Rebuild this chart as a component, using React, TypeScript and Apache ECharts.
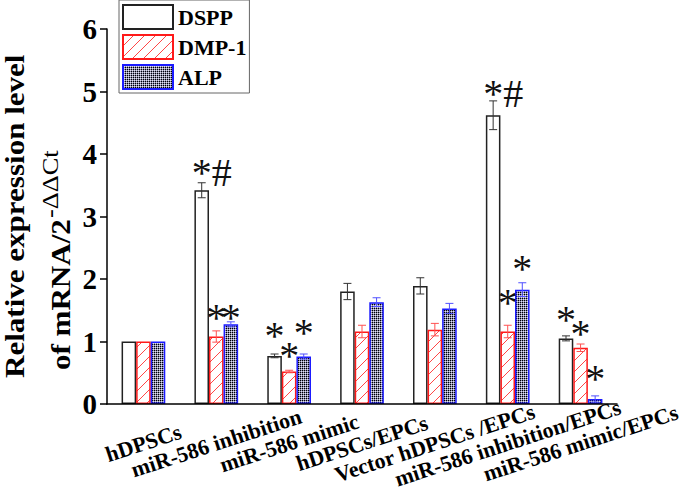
import React, { useEffect, useRef } from 'react';
import * as echarts from 'echarts';

const categories = [
  'hDPSCs',
  'miR-586 inhibition',
  'miR-586 mimic',
  'hDPSCs/EPCs',
  'Vector hDPSCs /EPCs',
  'miR-586 inhibition/EPCs',
  'miR-586 mimic/EPCs',
];
const seriesNames = ['DSPP', 'DMP-1', 'ALP'];
const dsppValues = [1.0, 3.42, 0.77, 1.8, 1.89, 4.62, 1.05];
const dsppErrors = [0, 0.12, 0.03, 0.13, 0.13, 0.23, 0.04];
const dmp1Values = [1.0, 1.08, 0.52, 1.16, 1.19, 1.16, 0.9];
const dmp1Errors = [0, 0.09, 0.02, 0.1, 0.1, 0.1, 0.06];
const alpValues = [1.0, 1.275, 0.76, 1.63, 1.53, 1.83, 0.08];
const alpErrors = [0, 0.04, 0.04, 0.07, 0.08, 0.11, 0.05];
const dsppMarks = ['', '*#', '*', '', '', '*#', '*'];
const dmp1Marks = ['', '*', '*', '', '', '*', '*'];
const alpMarks = ['', '*', '*', '', '', '*', '*'];
const yTicks = [0, 1, 2, 3, 4, 5, 6];
const yTitleLine1 = 'Relative expression level';
const yTitleLine2 = 'of mRNA/2';
const yTitleSup = '-ΔΔCt';

// layout tweaks (pixels) for annotation marks, kept apart from the data
const markLift = [
  [0, 23, 26, 0, 0, 27, 24],
  [0, 25, 22, 0, 0, 35, 20],
  [0, 12, 30, 0, 0, 27, 26],
];

const FONT = '"Liberation Serif", "Times New Roman", serif';
const MARK_SIZE = 40;
const TITLE_SCALE = 1.15;

function makeHatch(): HTMLCanvasElement {
  const c = document.createElement('canvas');
  const s = 11;
  c.width = s;
  c.height = s;
  const ctx = c.getContext('2d')!;
  ctx.fillStyle = '#ffffff';
  ctx.fillRect(0, 0, s, s);
  ctx.strokeStyle = 'rgba(255,50,50,0.9)';
  ctx.lineWidth = 1;
  ctx.beginPath();
  ctx.moveTo(-1, s + 1);
  ctx.lineTo(s + 1, -1);
  ctx.moveTo(-2, 2);
  ctx.lineTo(2, -2);
  ctx.moveTo(s - 2, s + 2);
  ctx.lineTo(s + 2, s - 2);
  ctx.stroke();
  return c;
}

function makeDots(): HTMLCanvasElement {
  const c = document.createElement('canvas');
  c.width = 2;
  c.height = 2;
  const ctx = c.getContext('2d')!;
  ctx.fillStyle = '#e4e4f0';
  ctx.fillRect(0, 0, 2, 2);
  ctx.fillStyle = '#8a8aa8';
  ctx.fillRect(1, 0, 1, 1);
  ctx.fillRect(0, 1, 1, 1);
  ctx.fillStyle = '#000000';
  ctx.fillRect(0, 0, 1, 1);
  return c;
}

function measure(text: string, font: string): number {
  const c = document.createElement('canvas');
  const ctx = c.getContext('2d')!;
  ctx.font = font;
  return ctx.measureText(text).width;
}

export default function App() {
  const ref = useRef<HTMLDivElement>(null);

  useEffect(() => {
    if (!ref.current) return;
    const chart = echarts.init(ref.current, null, { renderer: 'svg' });

    const values = [dsppValues, dmp1Values, alpValues];
    const errors = [dsppErrors, dmp1Errors, alpErrors];
    const marks = [dsppMarks, dmp1Marks, alpMarks];
    const borderColors = ['#222222', '#ff1a1a', '#1a1aff'];
    const errColors = ['#333333', '#ff5050', '#5050ff'];
    const fills: any[] = [
      '#ffffff',
      { image: makeHatch(), repeat: 'repeat' },
      { image: makeDots(), repeat: 'repeat' },
    ];

    const barSeries = seriesNames.map((name, s) => ({
      name,
      type: 'bar',
      data: values[s],
      barGap: '0%',
      barCategoryGap: '40%',
      z: 2,
      itemStyle: {
        color: fills[s],
        borderColor: borderColors[s],
        borderWidth: 1.5,
      },
    }));

    const errSeries = seriesNames.map((name, s) => ({
      name: name + ' error',
      type: 'custom',
      z: 4,
      data: categories.map((_, i) => [i, values[s][i], errors[s][i]]),
      encode: { x: 0, y: 1 },
      renderItem: (params: any, api: any) => {
        const cat = api.value(0);
        const v = api.value(1);
        const e = api.value(2);
        if (!e) return { type: 'group', children: [] };
        const band = api.size([1, 0])[0];
        const off = (s - 1) * band * 0.2;
        const top = api.coord([cat, v + e]);
        const bot = api.coord([cat, v - e]);
        const x = top[0] + off;
        const st = { stroke: errColors[s], lineWidth: 1 };
        return {
          type: 'group',
          children: [
            { type: 'line', shape: { x1: x, y1: top[1], x2: x, y2: bot[1] }, style: st },
            { type: 'line', shape: { x1: x - 4, y1: top[1], x2: x + 4, y2: top[1] }, style: st },
            { type: 'line', shape: { x1: x - 4, y1: bot[1], x2: x + 4, y2: bot[1] }, style: st },
          ],
        };
      },
    }));

    const markItems: { cat: number; s: number; value: number; text: string }[] = [];
    marks.forEach((arr, s) =>
      arr.forEach((t, i) => {
        if (t) markItems.push({ cat: i, s, value: values[s][i], text: t });
      })
    );

    const markSeries = {
      name: 'marks',
      type: 'custom',
      z: 5,
      data: markItems.map((m) => [m.cat, m.value]),
      encode: { x: 0, y: 1 },
      renderItem: (params: any, api: any) => {
        const m = markItems[params.dataIndex];
        const band = api.size([1, 0])[0];
        const off = (m.s - 1) * band * 0.2;
        const p = api.coord([m.cat, m.value]);
        const x = p[0] + off;
        const y = p[1] - markLift[m.s][m.cat] + MARK_SIZE * 0.14;
        const two = m.text.length > 1;
        return {
          type: 'text',
          x: two ? x - MARK_SIZE * 0.25 : x,
          y,
          style: {
            text: m.text,
            fontSize: MARK_SIZE,
            lineHeight: 13,
            fontFamily: FONT,
            fill: '#111111',
            align: two ? 'left' : 'center',
            verticalAlign: 'middle',
          },
        };
      },
    };

    const line2Width = measure(yTitleLine2, 'bold 27px "Liberation Serif"') * TITLE_SCALE;

    const option: any = {
      animation: false,
      backgroundColor: '#ffffff',
      grid: { left: 107, right: 68, top: 29, bottom: 91 },
      legend: {
        data: seriesNames,
        orient: 'vertical',
        left: 119,
        top: 0,
        itemWidth: 50,
        itemHeight: 24,
        itemGap: 4,
        padding: [4, 3, 3, 3],
        borderColor: '#666666',
        borderWidth: 1,
        backgroundColor: '#ffffff',
        icon: 'rect',
        textStyle: {
          fontFamily: FONT,
          fontWeight: 'bold',
          fontSize: 22,
          color: '#000000',
        },
      },
      xAxis: {
        type: 'category',
        data: categories,
        z: 10,
        axisLine: { lineStyle: { color: '#000000', width: 1.5 } },
        axisTick: {
          alignWithLabel: true,
          inside: true,
          length: 7,
          lineStyle: { color: '#000000', width: 1.5 },
        },
        axisLabel: {
          interval: 0,
          rotate: 18,
          align: 'center',
          verticalAlign: 'middle',
          margin: 39,
          fontFamily: FONT,
          fontWeight: 'bold',
          fontSize: 22,
          color: '#000000',
        },
      },
      yAxis: {
        type: 'value',
        min: yTicks[0],
        max: yTicks[yTicks.length - 1],
        interval: 1,
        splitLine: { show: false },
        axisLine: { show: true, lineStyle: { color: '#000000', width: 1.5 } },
        axisTick: { show: true, length: 7, lineStyle: { color: '#000000', width: 1.5 } },
        axisLabel: {
          margin: 10,
          fontFamily: FONT,
          fontWeight: 'bold',
          fontSize: 29,
          color: '#000000',
        },
      },
      graphic: [
        {
          type: 'text',
          x: 15,
          y: 378,
          rotation: Math.PI / 2,
          scaleX: TITLE_SCALE,
          style: {
            text: yTitleLine1,
            fontFamily: FONT,
            fontWeight: 'bold',
            fontSize: 27,
            fill: '#000000',
            align: 'left',
            verticalAlign: 'middle',
          },
        },
        {
          type: 'text',
          x: 61,
          y: 370,
          rotation: Math.PI / 2,
          scaleX: TITLE_SCALE,
          style: {
            text: yTitleLine2,
            fontFamily: FONT,
            fontWeight: 'bold',
            fontSize: 27,
            fill: '#000000',
            align: 'left',
            verticalAlign: 'middle',
          },
        },
        {
          type: 'text',
          x: 50,
          y: 370 - line2Width - 1,
          rotation: Math.PI / 2,
          scaleX: TITLE_SCALE,
          style: {
            text: yTitleSup,
            fontFamily: FONT,
            fontWeight: 'normal',
            fontSize: 23,
            fill: '#000000',
            align: 'left',
            verticalAlign: 'middle',
          },
        },
      ],
      series: [...barSeries, ...errSeries, markSeries],
    };

    chart.setOption(option);
    return () => chart.dispose();
  }, []);

  return (
    <div
      ref={ref}
      style={{ position: 'fixed', left: 0, top: 0, width: 685, height: 495, background: '#ffffff' }}
    />
  );
}
